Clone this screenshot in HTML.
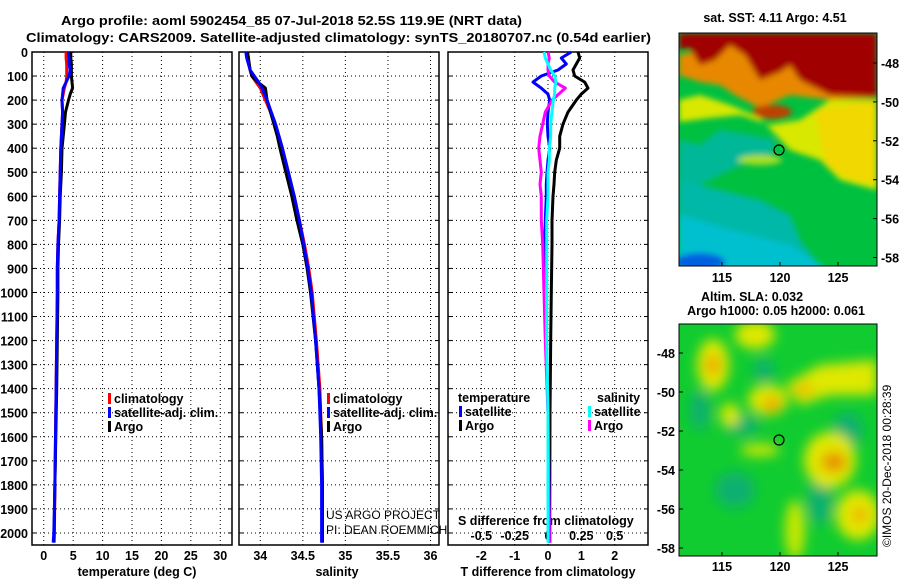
<!DOCTYPE html>
<html><head><meta charset="utf-8"><style>
body{margin:0;background:#fff}
svg{display:block;font-family:"Liberation Sans",sans-serif}
.b{font-weight:bold;font-size:12.5px}
</style></head><body>
<svg id="c" width="900" height="580" viewBox="0 0 900 580">
<defs>
<filter id="bl" x="-10%" y="-10%" width="120%" height="120%"><feGaussianBlur stdDeviation="3"/></filter>
<filter id="bl2" x="-20%" y="-20%" width="140%" height="140%"><feGaussianBlur stdDeviation="6"/></filter>
<clipPath id="cm1"><rect x="679" y="33" width="198" height="233"/></clipPath>
<clipPath id="cm2"><rect x="679" y="324" width="198" height="232"/></clipPath>
</defs>
<text x="61" y="25" class="b" font-size="14.5" textLength="461" lengthAdjust="spacingAndGlyphs">Argo profile: aoml 5902454_85 07-Jul-2018 52.5S 119.9E (NRT data)</text>
<text x="26" y="42" class="b" font-size="14.5" textLength="625" lengthAdjust="spacingAndGlyphs">Climatology: CARS2009. Satellite-adjusted climatology: synTS_20180707.nc (0.54d earlier)</text>

<!-- top map -->
<g clip-path="url(#cm1)">
<rect x="679" y="33" width="198" height="233" fill="#00c040"/>
<g filter="url(#bl)">
<path d="M679,140 L700,145 L720,130 L750,135 L775,140 L770,160 L740,165 L720,175 L700,185 L679,180Z" fill="#00b898"/>
<path d="M679,180 L720,190 L760,200 L790,215 L800,240 L820,266 L679,266Z" fill="#00b8a8"/>
<path d="M679,215 L730,230 L790,245 L830,270 L679,270Z" fill="#00c0d0"/>
<ellipse cx="700" cy="262" rx="25" ry="9" fill="#0060e0"/>
<path d="M679,100 L700,95 L730,105 L760,118 L790,150 L820,160 L840,180 L877,190 L877,100 L830,100 L800,120 L770,125 L740,115 L710,118 L679,122Z" fill="#d8e800"/>
<path d="M815,110 L877,100 L877,185 L850,180 L825,165Z" fill="#f0d800"/>
<path d="M679,75 L700,82 L720,85 L735,95 L760,108 L790,95 L830,100 L877,98 L877,65 L830,60 L790,45 L740,42 L700,50 L679,55Z" fill="#e88800"/>
<path d="M679,33 L877,33 L877,97 L830,95 L800,80 L790,65 L780,72 L760,80 L745,55 L730,45 L715,60 L700,65 L690,48 L679,50Z" fill="#a00000"/>
<ellipse cx="772" cy="112" rx="20" ry="7" fill="#c04000"/>
<ellipse cx="760" cy="160" rx="22" ry="5" fill="#a8e020"/>
</g>
</g>
<circle cx="779" cy="150" r="5" fill="none" stroke="#000" stroke-width="1.2"/>
<rect x="679" y="33" width="198" height="233" fill="none" stroke="#000" stroke-width="1"/>

<!-- bottom map -->
<g clip-path="url(#cm2)">
<rect x="679" y="324" width="198" height="232" fill="#10cc30"/>
<g filter="url(#bl2)">
<ellipse cx="700" cy="410" rx="10" ry="20" fill="#10b070"/>
<ellipse cx="742" cy="425" rx="18" ry="10" fill="#10b070"/>
<ellipse cx="848" cy="430" rx="15" ry="18" fill="#10b070"/>
<ellipse cx="820" cy="500" rx="12" ry="25" fill="#10b070"/>
<ellipse cx="735" cy="490" rx="20" ry="18" fill="#10b070"/>
<ellipse cx="764" cy="370" rx="10" ry="12" fill="#10b070"/>
<ellipse cx="713" cy="365" rx="16" ry="26" fill="#e0e800"/>
<ellipse cx="755" cy="335" rx="20" ry="14" fill="#e0e800"/>
<ellipse cx="768" cy="400" rx="20" ry="15" fill="#e0e800"/>
<path d="M785,385 L820,365 L877,360 L877,395 L830,395 L800,405Z" fill="#e0e800"/>
<ellipse cx="830" cy="460" rx="26" ry="28" fill="#e0e800"/>
<ellipse cx="858" cy="515" rx="22" ry="25" fill="#e0e800"/>
<ellipse cx="795" cy="530" rx="10" ry="30" fill="#c8e800"/>
<ellipse cx="760" cy="450" rx="20" ry="6" fill="#d8e800"/>
<ellipse cx="730" cy="415" rx="10" ry="12" fill="#d8e800"/>
<ellipse cx="713" cy="365" rx="7" ry="10" fill="#f0a000"/>
<ellipse cx="772" cy="404" rx="9" ry="7" fill="#f0a000"/>
<ellipse cx="804" cy="390" rx="10" ry="5" fill="#f0b000"/>
<ellipse cx="834" cy="462" rx="13" ry="10" fill="#e89000"/>
<ellipse cx="860" cy="515" rx="8" ry="8" fill="#f0b000"/>
</g>
</g>
<circle cx="779" cy="440" r="5" fill="none" stroke="#000" stroke-width="1.2"/>
<rect x="679" y="324" width="198" height="232" fill="none" stroke="#000" stroke-width="1"/>

<text x="775" y="22" class="b" text-anchor="middle">sat. SST: 4.11 Argo: 4.51</text>
<text x="752" y="301" class="b" text-anchor="middle">Altim. SLA: 0.032</text>
<text x="776" y="315" class="b" text-anchor="middle">Argo h1000: 0.05 h2000: 0.061</text>
<text transform="translate(891,547) rotate(-90)" font-size="12">©IMOS 20-Dec-2018 00:28:39</text>

<text x="326" y="519" font-size="12">US ARGO PROJECT</text>
<text x="326" y="534" font-size="12">PI: DEAN ROEMMICH</text>
<text x="458" y="525" class="b">S difference from climatology</text>
<text x="137" y="576" class="b" text-anchor="middle">temperature (deg C)</text>
<text x="337" y="576" class="b" text-anchor="middle">salinity</text>
<text x="548" y="576" class="b" text-anchor="middle">T difference from climatology</text>
<g id="g"></g>
</svg>
<script>
// ---- data ----
const depths=[0,25,50,75,100,125,150,175,200,250,300,350,400,500,600,700,800,900,1000,1200,1400,1600,1800,2000,2040];
const tempClim=[3.8,3.8,3.9,3.9,3.9,3.8,3.5,3.3,3.1,3.2,3.1,3.0,2.9,2.8,2.7,2.6,2.4,2.3,2.3,2.2,2.1,2.0,1.9,1.8,1.75];
const tempSat=[4.2,4.3,4.3,4.5,4.3,3.8,3.3,3.2,3.1,3.2,3.1,3.0,2.9,2.8,2.7,2.6,2.4,2.3,2.3,2.2,2.1,2.0,1.9,1.7,1.6];
const tempArgo=[4.6,4.6,4.7,4.7,4.7,4.8,4.9,4.5,4.2,3.7,3.5,3.3,3.1,3.0,2.8,2.7,2.5,2.4,2.4,2.3,2.2,2.05,1.9,1.75,1.7];
const salClim=[33.85,33.86,33.87,33.88,33.9,33.95,34.0,34.03,34.06,34.12,34.17,34.22,34.26,34.33,34.4,34.46,34.52,34.57,34.61,34.66,34.7,34.72,34.73,34.73,34.73];
const salSat=[33.83,33.84,33.86,33.88,33.93,33.98,34.02,34.05,34.08,34.13,34.18,34.22,34.26,34.33,34.4,34.46,34.51,34.56,34.6,34.65,34.69,34.71,34.72,34.72,34.72];
const salArgo=[33.85,33.86,33.87,33.88,33.9,33.97,34.06,34.07,34.08,34.12,34.16,34.2,34.23,34.3,34.37,34.43,34.5,34.55,34.59,34.65,34.69,34.72,34.73,34.73,34.73];
const diffDepths=[0,25,50,75,100,125,150,175,200,250,300,350,400,450,500,550,600,700,800,1000,1200,1500,2000,2040];
const tDiffArgo=[0.9,0.95,0.85,0.75,0.8,1.1,1.2,1.0,0.85,0.6,0.45,0.35,0.35,0.25,0.2,0.18,0.15,0.12,0.12,0.1,0.08,0.06,0.05,0.05];
const tDiffSat=[0.7,0.4,0.55,0.3,-0.2,-0.45,-0.2,0,0.05,0,-0.02,0,0.05,0,-0.03,-0.05,-0.05,-0.08,-0.1,-0.08,-0.05,0,0.05,0.05];
const sDiffSat=[-0.03,-0.02,0,0.02,0.05,0.06,0.05,0.05,0.04,0.03,0.02,0.02,0.01,0.01,0,0,0,-0.01,-0.01,-0.01,-0.01,0,0,0];
const sDiffArgo=[0,0.01,0,0,0.01,0.05,0.13,0.08,0.03,-0.02,-0.04,-0.06,-0.07,-0.06,-0.05,-0.06,-0.05,-0.05,-0.04,-0.03,-0.02,0,0.01,0.01];
const depthTicks=[0,100,200,300,400,500,600,700,800,900,1000,1100,1200,1300,1400,1500,1600,1700,1800,1900,2000];
const tempTicks=[0,5,10,15,20,25,30];
const salTicks=[34,34.5,35,35.5,36];
const tDiffTicks=[-2,-1,0,1,2];
const sDiffTicks=[-0.5,-0.25,0,0.25,0.5];
const lonTicks=[115,120,125];
const latTicks=[-48,-50,-52,-54,-56,-58];

// ---- axes ----
const TOP=52,BOT=545;
const yD=d=>TOP+d*(BOT-TOP)/2050;
const x1=t=>32+(t+2)*200/34;
const x2=s=>239+(s-33.75)*200/2.35;
const x3=t=>448+(t+3)*200/6;
const xS=s=>x3(s*4);
const lonX=l=>780+(l-120)*11.6;
const latY1=a=>63+(-48-a)*19.45;
const latY2=a=>353+(-48-a)*19.5;

const NS='http://www.w3.org/2000/svg';
const g=document.getElementById('g');
function mk(tag,at,parent){const e=document.createElementNS(NS,tag);for(const k in at)e.setAttribute(k,at[k]);(parent||g).appendChild(e);return e;}
function txt(x,y,s,anchor,cls){const e=mk('text',{x:x,y:y,'text-anchor':anchor||'start','class':cls||'b'});e.textContent=s;return e;}

const panels=[{l:32,r:232,xs:x1,ticks:tempTicks,name:'temperature'},{l:239,r:439,xs:x2,ticks:salTicks,name:'salinity'},{l:448,r:648,xs:x3,ticks:tDiffTicks,name:'t-diff'}];
panels.forEach(p=>{
  depthTicks.forEach(d=>{
    const ln=mk('line',{x1:p.l,x2:p.r,y1:yD(d),y2:yD(d),stroke:'#000','stroke-width':1,'stroke-dasharray':'1,3'});
    
    
    mk('line',{x1:p.l,x2:p.l+4,y1:yD(d),y2:yD(d),stroke:'#000'});
    mk('line',{x1:p.r-4,x2:p.r,y1:yD(d),y2:yD(d),stroke:'#000'});
  });
  p.ticks.forEach(v=>{
    const x=p.xs(v);
    const ln=mk('line',{x1:x,x2:x,y1:TOP,y2:BOT,stroke:'#000','stroke-width':1,'stroke-dasharray':'1,3'});
    
    
    const t=txt(x,560,String(v),'middle');
    
    
  });
  const fr=mk('rect',{x:p.l,y:TOP,width:p.r-p.l,height:BOT-TOP,fill:'none',stroke:'#000','stroke-width':1.5});
  
  
});
depthTicks.forEach(d=>{
  const t=txt(28,yD(d)+5,String(d),'end');
  
  
});
sDiffTicks.forEach(v=>{
  const t=txt(xS(v),540,String(v),'middle');
  
  
});
lonTicks.forEach(l=>{
  [[266,282],[556,571]].forEach(([yb,yl])=>{
    mk('line',{x1:lonX(l),x2:lonX(l),y1:yb,y2:yb-4,stroke:'#000'});
    const t=txt(lonX(l),yl,String(l),'middle');
    
    
  });
});
latTicks.forEach(a=>{
  const y=latY1(a);
  mk('line',{x1:877,x2:873,y1:y,y2:y,stroke:'#000'});
  const t=txt(881,y+5,String(a),'start');
  
  
  const y2=latY2(a);
  mk('line',{x1:679,x2:683,y1:y2,y2:y2,stroke:'#000'});
  const t2=txt(675,y2+5,String(a),'end');
  
  
});

function line(vals,ds,xs,color,name){
  const pts=vals.map((v,i)=>xs(v).toFixed(1)+','+yD(ds[i]).toFixed(1)).join(' ');
  const e=mk('polyline',{points:pts,fill:'none',stroke:color,'stroke-width':3,'stroke-linejoin':'round'});
  
  
}
line(tempClim,depths,x1,'#ff0000','temp-climatology-line');
line(tempArgo,depths,x1,'#000000','temp-argo-line');
line(tempSat,depths,x1,'#0000ff','temp-satellite-line');
line(salClim,depths,x2,'#ff0000','sal-climatology-line');
line(salArgo,depths,x2,'#000000','sal-argo-line');
line(salSat,depths,x2,'#0000ff','sal-satellite-line');
line(tDiffArgo,diffDepths,x3,'#000000','tdiff-argo-line');
line(tDiffSat,diffDepths,x3,'#0000ff','tdiff-satellite-line');
line(sDiffArgo,diffDepths,xS,'#ff00ff','sdiff-argo-line');
line(sDiffSat,diffDepths,xS,'#00ffff','sdiff-satellite-line');

function legend(x,y,entries,prefix){
  entries.forEach((en,i)=>{
    const yy=y+i*14;
    mk('rect',{x:x,y:yy-10,width:3,height:11,fill:en[1]});
    const t=txt(x+6,yy,en[0],'start');
    
    
  });
}
legend(108,403,[['climatology','#ff0000'],['satellite-adj. clim.','#0000ff'],['Argo','#000']],'temp');
legend(327,403,[['climatology','#ff0000'],['satellite-adj. clim.','#0000ff'],['Argo','#000']],'sal');
const lt=txt(458,402,'temperature','start');


const ls=txt(597,402,'salinity','start');


legend(459,416,[['satellite','#0000ff'],['Argo','#000']],'tdiff');
legend(588,416,[['satellite','#00ffff'],['Argo','#ff00ff']],'sdiff');
</script>
</body></html>
